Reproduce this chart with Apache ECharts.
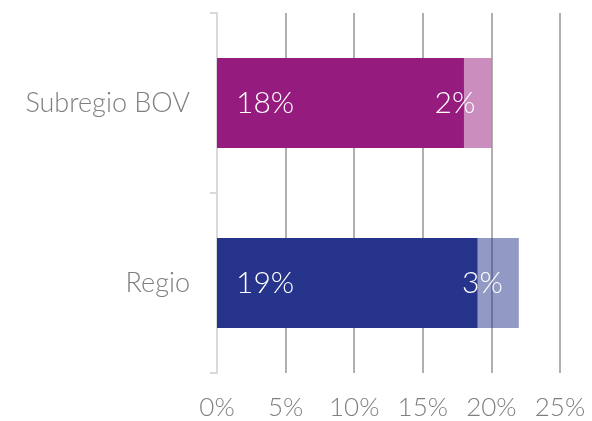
<!DOCTYPE html>
<html>
<head>
<meta charset="utf-8">
<script src="https://cdn.jsdelivr.net/npm/echarts@6/dist/echarts.min.js"></script>
<style>
  html, body { margin: 0; padding: 0; background: #fff; }
  #chart { width: 592px; height: 421px; }
</style>
</head>
<body>
<div id="chart"></div>
<script>
  // categories, top to bottom
  const categories = ['Subregio BOV', 'Regio']
  const baseValues = [18, 19]
  const extraValues = [2, 3]
  const baseColors = ['#961b7e', '#27348b']
  // same hue at half opacity, so the grid lines show through
  const extraColors = ['rgba(150,27,126,0.5)', 'rgba(39,52,139,0.5)']
  const xTicks = [0, 5, 10, 15, 20, 25]

  const font = 'Lato, "DejaVu Sans", sans-serif'

  const chart = echarts.init(document.getElementById('chart'))

  chart.setOption({
    animation: false,
    grid: { left: 217, right: 32, top: 13, bottom: 47, containLabel: false },
    xAxis: {
      type: 'value',
      min: xTicks[0],
      max: xTicks[xTicks.length - 1],
      interval: 5,
      axisLine: { show: false },
      axisTick: { show: false },
      axisLabel: {
        margin: 22,
        color: '#7f7f7f',
        fontFamily: font,
        fontWeight: 300,
        fontSize: 26,
        formatter: '{value}%'
      },
      splitLine: {
        show: true,
        lineStyle: {
          color: ['#d9d9d9', '#b0b0b0', '#b0b0b0', '#b0b0b0', '#b0b0b0', '#b0b0b0'],
          width: 2
        }
      }
    },
    yAxis: {
      type: 'category',
      inverse: true,
      data: categories,
      axisLine: { show: true, lineStyle: { color: '#d9d9d9', width: 2 } },
      axisTick: { show: true, length: 7, lineStyle: { color: '#d9d9d9', width: 2 } },
      axisLabel: {
        margin: 27,
        color: '#7f7f7f',
        fontFamily: font,
        fontWeight: 300,
        fontSize: 27
      }
    },
    series: [
      {
        type: 'bar',
        stack: 'total',
        barWidth: '50%',
        data: baseValues.map((v, i) => ({ value: v, itemStyle: { color: baseColors[i] } })),
        label: {
          show: true,
          position: 'insideLeft',
          distance: 19,
          color: '#fff',
          fontFamily: font,
          fontWeight: 300,
          fontSize: 30,
          formatter: '{c}%'
        }
      },
      {
        type: 'bar',
        stack: 'total',
        data: extraValues.map((v, i) => ({ value: v, itemStyle: { color: extraColors[i] } })),
        label: {
          show: true,
          position: 'insideRight',
          distance: 16,
          color: '#fff',
          fontFamily: font,
          fontWeight: 300,
          fontSize: 30,
          formatter: '{c}%'
        }
      }
    ]
  })

  window.addEventListener('resize', () => {
    chart.resize()
  })
</script>
</body>
</html>
